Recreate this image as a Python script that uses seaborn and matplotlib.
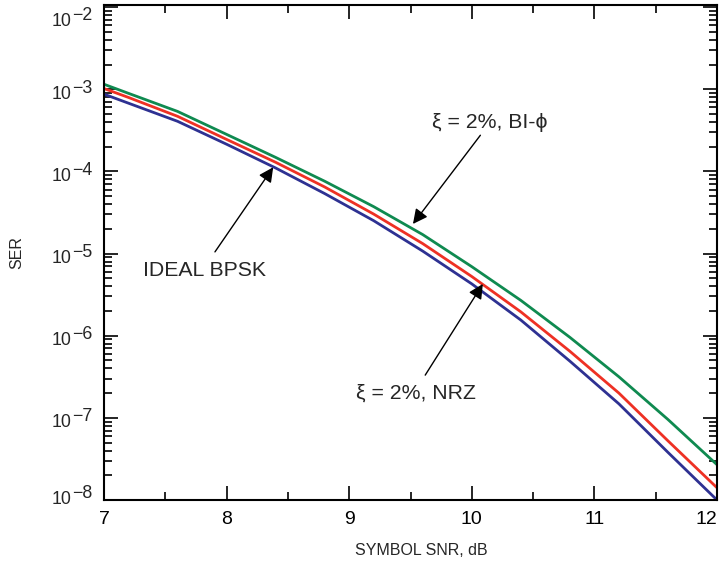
import numpy as np
import pandas as pd
import matplotlib
matplotlib.use("Agg")
import matplotlib.pyplot as plt
import matplotlib.transforms as mtransforms
import seaborn as sns
from matplotlib.ticker import LogLocator, MultipleLocator, FixedLocator

# ---- data ----
snr_db = [7.0, 7.2, 7.6, 8.0, 8.4, 8.8, 9.2, 9.6, 10.0, 10.4, 10.8, 11.2, 11.6, 12.0]
ser_ideal = [8.71e-4, 6.76e-4, 4.07e-4, 2.14e-4, 1.10e-4, 5.37e-5, 2.51e-5,
             1.07e-5, 4.27e-6, 1.55e-6, 4.90e-7, 1.48e-7, 3.80e-8, 1.0e-8]
ser_nrz = [1.02e-3, 7.94e-4, 4.68e-4, 2.45e-4, 1.29e-4, 6.46e-5, 3.02e-5,
           1.32e-5, 5.25e-6, 1.95e-6, 6.46e-7, 2.00e-7, 5.25e-8, 1.41e-8]
ser_biphi = [1.15e-3, 8.91e-4, 5.37e-4, 2.82e-4, 1.48e-4, 7.59e-5, 3.72e-5,
             1.70e-5, 6.92e-6, 2.69e-6, 9.55e-7, 3.16e-7, 9.55e-8, 2.69e-8]
series_names = ["IDEAL BPSK", "NRZ", "BI-PHI"]
series_colors = ["#2e3192", "#ee3124", "#0f8a50"]
x_ticks = [7, 8, 9, 10, 11, 12]
y_exponents = [-8, -7, -6, -5, -4, -3, -2]

df = pd.concat([
    pd.DataFrame({"snr": snr_db, "ser": ser_ideal, "series": series_names[0]}),
    pd.DataFrame({"snr": snr_db, "ser": ser_nrz, "series": series_names[1]}),
    pd.DataFrame({"snr": snr_db, "ser": ser_biphi, "series": series_names[2]}),
])

sns.set_style("ticks")
plt.rcParams["font.family"] = ["Liberation Sans", "DejaVu Sans"]

fig = plt.figure(figsize=(7.19, 5.69), dpi=100)
ax = fig.add_axes([104 / 719, 1 - 500 / 569, (717 - 104) / 719, (500 - 5) / 569])

sns.lineplot(data=df, x="snr", y="ser", hue="series", palette=series_colors,
             hue_order=series_names, legend=False, ax=ax, linewidth=2.0,
             sort=False)

ax.set_yscale("log")
ax.set_xlim(7, 12)
ax.set_ylim(1e-8, 1.06e-2)

ax.xaxis.set_major_locator(FixedLocator(x_ticks))
ax.xaxis.set_minor_locator(MultipleLocator(0.5))
ax.yaxis.set_major_locator(FixedLocator([10.0 ** e for e in y_exponents]))
ax.yaxis.set_minor_locator(LogLocator(base=10, subs=np.arange(2, 10), numticks=20))

ax.tick_params(which="both", direction="in", top=True, right=True,
               labelsize=14, colors="black", width=1.2)
ax.tick_params(which="major", length=10)
ax.tick_params(which="minor", length=6)
ax.tick_params(axis="y", labelleft=False)
for sp in ax.spines.values():
    sp.set_linewidth(1.5)
    sp.set_color("black")

ax.set_xticklabels([str(t) for t in x_ticks])
ax.get_xticklabels()[-1].set_horizontalalignment("right")
ax.tick_params(axis="x", pad=8)

# y tick labels: "10" with a full-size raised exponent, as in the reference
ytrans = ax.get_yaxis_transform()
extra_shift = {-2: -9, -8: 6}
for e in y_exponents:
    dy = extra_shift.get(e, 0)
    base_tr = mtransforms.offset_copy(ytrans, fig=fig, x=-52, y=-5 + dy, units="dots")
    sup_tr = mtransforms.offset_copy(ytrans, fig=fig, x=-32, y=1 + dy, units="dots")
    ax.text(0, 10.0 ** e, "10", transform=base_tr, ha="left", va="center",
            fontsize=12.8, clip_on=False)
    ax.text(0, 10.0 ** e, "\u2212" + str(-e), transform=sup_tr, ha="left",
            va="center", fontsize=12.8, clip_on=False)

ax.set_xlabel("SYMBOL SNR, dB", fontsize=11.5)
ax.xaxis.set_label_coords(0.517, -0.087)
ax.set_ylabel("SER", fontsize=11.5)
ax.yaxis.set_label_coords(-0.1305, 0.5)

arrow = dict(arrowstyle="-|>", color="black", lw=1.0, mutation_scale=22,
             shrinkA=0, shrinkB=0)
fs = 15.3
# BI-phi annotation
ax.annotate("", xy=(9.52, 10 ** -4.64), xytext=(10.07, 10 ** -3.56),
            arrowprops=arrow)
ax.text(10.15, 10 ** -3.41, "ξ = 2%, BI-ϕ", ha="center", va="center",
        fontsize=fs)
# NRZ annotation
ax.annotate("", xy=(10.09, 10 ** -5.37), xytext=(9.62, 10 ** -6.48),
            arrowprops=arrow)
ax.text(9.545, 10 ** -6.70, "ξ = 2%, NRZ", ha="center", va="center", fontsize=fs)
# IDEAL BPSK annotation
ax.annotate("", xy=(8.38, 10 ** -3.95), xytext=(7.905, 10 ** -4.98),
            arrowprops=arrow)
ax.text(7.82, 10 ** -5.21, "IDEAL BPSK", ha="center", va="center", fontsize=fs)

fig.savefig("out.png", dpi=100)
